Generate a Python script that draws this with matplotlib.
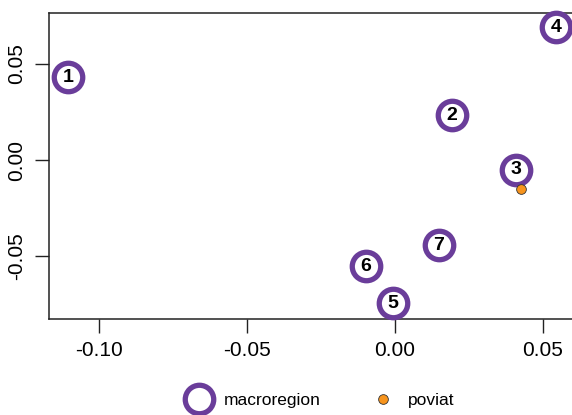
import matplotlib
matplotlib.use("Agg")
import matplotlib.pyplot as plt
from matplotlib.lines import Line2D

plt.rcParams['font.family'] = ['Liberation Sans', 'DejaVu Sans']

# macroregion centroids
region_ids = ['1', '2', '3', '4', '5', '6', '7']
region_x = [-0.1105, 0.0193, 0.0409, 0.0544, -0.0007, -0.0098, 0.0149]
region_y = [0.0432, 0.0234, -0.0050, 0.0693, -0.0747, -0.0552, -0.0443]

# poviat points
poviat_x = [0.0426]
poviat_y = [-0.0151]

xticks = [-0.10, -0.05, 0.00, 0.05]
yticks = [-0.05, 0.00, 0.05]

purple = '#6A3D9A'
orange = '#F7941D'

fig = plt.figure(figsize=(5.72, 4.15), dpi=100)
ax = fig.add_axes([0.0848, 0.2313, 0.9152, 0.7374])

ax.plot(region_x, region_y, 'o', ms=20.5, mfc='white', mec=purple, mew=3.8,
        ls='none', zorder=3, clip_on=False)
for lab, x, y in zip(region_ids, region_x, region_y):
    ax.text(x, y, lab, ha='center', va='center', fontsize=14,
            fontweight='bold', color='black', zorder=4)
ax.plot(poviat_x, poviat_y, 'o', ms=7, mfc=orange, mec='#333333', mew=0.6,
        ls='none', zorder=5)

ax.set_xlim(-0.117, 0.0598)
ax.set_ylim(-0.0828, 0.0766)
ax.set_xticks(xticks)
ax.set_xticklabels([f'{v:.2f}' for v in xticks])
ax.set_yticks(yticks)
ax.set_yticklabels([f'{v:.2f}' for v in yticks], rotation=90, va='center')
ax.tick_params(length=10, width=1, labelsize=15, color='#222222', pad=6)
ax.spines['right'].set_visible(False)
for s in ['left', 'top', 'bottom']:
    ax.spines[s].set_linewidth(1.1)
    ax.spines[s].set_color('#222222')

handles = [
    Line2D([], [], marker='o', ls='none', ms=20.5, mfc='white', mec=purple, mew=3.8,
           label='macroregion'),
    Line2D([], [], marker='o', ls='none', ms=7, mfc=orange, mec='#333333', mew=0.6,
           label='poviat'),
]
fig.legend(handles=handles, loc='center', bbox_to_anchor=(0.556, 0.036), ncol=2,
           frameon=False, fontsize=12.5, columnspacing=2.6, handletextpad=0.45)

fig.savefig('out.png', dpi=100)
